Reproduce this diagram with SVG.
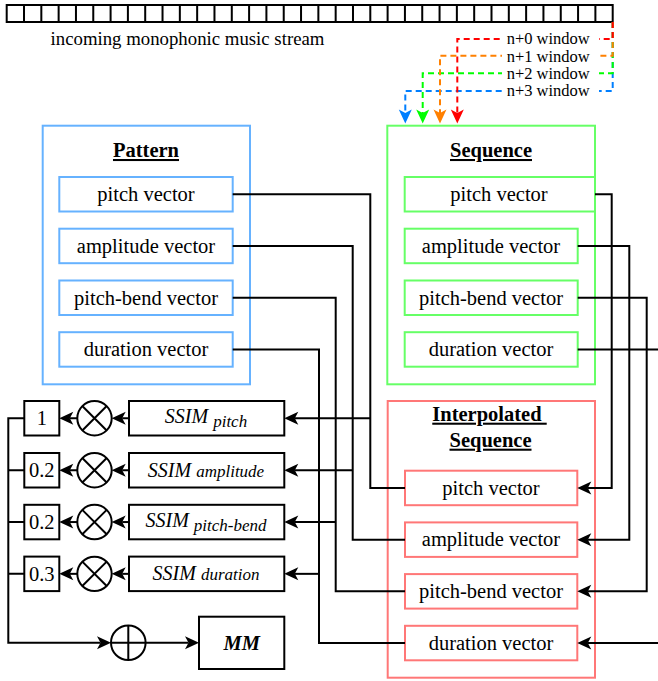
<svg xmlns="http://www.w3.org/2000/svg" width="658" height="681" viewBox="0 0 658 681" font-family="Liberation Serif, Tinos, Times New Roman, DejaVu Serif, serif">
  <defs>
    <style>
      text { font-family: "Liberation Serif", Tinos, "Times New Roman", "DejaVu Serif", serif; fill: #000; }
      .lbl { font-size: 20.5px; text-anchor: middle; }
      .ttl { font-size: 20.5px; font-weight: bold; text-anchor: middle; text-decoration: underline; }
      .ssim { font-style: italic; text-anchor: middle; }
      .win-lbl { font-size: 16.5px; }
      .pat { fill: #fff; stroke: #66B2FF; stroke-width: 2; }
      .seq { fill: #fff; stroke: #66FF66; stroke-width: 2; }
      .itp { fill: #fff; stroke: #FF7777; stroke-width: 2; }
      .blk { fill: #fff; stroke: #000; stroke-width: 2; }
      .wire { fill: none; stroke: #000; stroke-width: 2; }
      .arr { marker-end: url(#ah); }
      .win { fill: none; stroke-width: 2; stroke-dasharray: 6 4; }
      .cell { fill: none; stroke: #000; stroke-width: 2; }
    </style>
    <marker id="ah" markerUnits="userSpaceOnUse" markerWidth="16" markerHeight="14" refX="3.5" refY="6.5" orient="auto" overflow="visible">
      <path d="M0,0 L14,6.5 L0,13 L3.5,6.5 Z" fill="#000"/>
    </marker>
    <marker id="ah-red" markerUnits="userSpaceOnUse" markerWidth="16" markerHeight="14" refX="3.5" refY="6.5" orient="auto" overflow="visible">
      <path d="M0,0 L14,6.5 L0,13 L3.5,6.5 Z" fill="#FF0000"/>
    </marker>
    <marker id="ah-orange" markerUnits="userSpaceOnUse" markerWidth="16" markerHeight="14" refX="3.5" refY="6.5" orient="auto" overflow="visible">
      <path d="M0,0 L14,6.5 L0,13 L3.5,6.5 Z" fill="#FF8000"/>
    </marker>
    <marker id="ah-green" markerUnits="userSpaceOnUse" markerWidth="16" markerHeight="14" refX="3.5" refY="6.5" orient="auto" overflow="visible">
      <path d="M0,0 L14,6.5 L0,13 L3.5,6.5 Z" fill="#00FF00"/>
    </marker>
    <marker id="ah-blue" markerUnits="userSpaceOnUse" markerWidth="16" markerHeight="14" refX="3.5" refY="6.5" orient="auto" overflow="visible">
      <path d="M0,0 L14,6.5 L0,13 L3.5,6.5 Z" fill="#007FFF"/>
    </marker>
  </defs>

  <rect width="658" height="681" fill="#fff"/>

  <!-- incoming stream: 35 cells -->
  <g id="stream">
    <rect class="cell" x="6.7" y="5" width="606" height="17"/>
    <path class="cell" d="M24.01,5V22M41.33,5V22M58.64,5V22M75.96,5V22M93.27,5V22M110.59,5V22M127.9,5V22M145.21,5V22M162.53,5V22M179.84,5V22M197.16,5V22M214.47,5V22M231.79,5V22M249.1,5V22M266.41,5V22M283.73,5V22M301.04,5V22M318.36,5V22M335.67,5V22M352.99,5V22M370.3,5V22M387.61,5V22M404.93,5V22M422.24,5V22M439.56,5V22M456.87,5V22M474.19,5V22M491.5,5V22M508.81,5V22M526.13,5V22M543.44,5V22M560.76,5V22M578.07,5V22M595.39,5V22"/>
    <text x="187.5" y="44.5" font-size="18.8" text-anchor="middle">incoming monophonic music stream</text>
  </g>

  <!-- sliding windows -->
  <g id="windows">
    <path class="win" stroke="#007FFF" d="M612.7,22 V91 H405.3 V113" marker-end="url(#ah-blue)"/>
    <path class="win" stroke="#00FF00" d="M612.7,22 V73.3 H422.7 V113" marker-end="url(#ah-green)"/>
    <path class="win" stroke="#FF8000" d="M612.7,22 V55.7 H440 V113" marker-end="url(#ah-orange)"/>
    <path class="win" stroke="#FF0000" d="M612.7,22 V39 H457.3 V113" marker-end="url(#ah-red)"/>
    <rect x="502" y="32" width="97" height="14" fill="#fff"/>
    <rect x="502" y="48.7" width="97" height="14" fill="#fff"/>
    <rect x="502" y="66.3" width="97" height="14" fill="#fff"/>
    <rect x="502" y="84" width="97" height="14" fill="#fff"/>
    <text class="win-lbl" x="506.7" y="44.3">n+0 window</text>
    <text class="win-lbl" x="506.7" y="61.5">n+1 window</text>
    <text class="win-lbl" x="506.7" y="79">n+2 window</text>
    <text class="win-lbl" x="506.7" y="96.3">n+3 window</text>
  </g>

  <!-- Pattern -->
  <g id="pattern">
    <rect class="pat" x="42.7" y="125.7" width="207.3" height="258.6"/>
    <text class="ttl" x="146" y="157">Pattern</text>
  </g>
  <g id="pattern-pitch">
    <rect class="pat" x="59.3" y="177" width="173.4" height="34.5"/>
    <text class="lbl" x="146" y="201">pitch vector</text>
  </g>
  <g id="pattern-amplitude">
    <rect class="pat" x="59.3" y="228.7" width="173.4" height="34.5"/>
    <text class="lbl" x="146" y="252.7">amplitude vector</text>
  </g>
  <g id="pattern-pitchbend">
    <rect class="pat" x="59.3" y="280.5" width="173.4" height="34.5"/>
    <text class="lbl" x="146" y="304.5">pitch-bend vector</text>
  </g>
  <g id="pattern-duration">
    <rect class="pat" x="59.3" y="332.2" width="173.4" height="34.5"/>
    <text class="lbl" x="146" y="356.2">duration vector</text>
  </g>

  <!-- Sequence -->
  <g id="sequence">
    <rect class="seq" x="387.3" y="125.7" width="207.7" height="258.6"/>
    <text class="ttl" x="491" y="157">Sequence</text>
  </g>
  <g id="sequence-pitch">
    <rect class="seq" x="404.7" y="177" width="190.3" height="34.5"/>
    <text class="lbl" x="499" y="201">pitch vector</text>
  </g>
  <g id="sequence-amplitude">
    <rect class="seq" x="404.7" y="228.7" width="173" height="34.5"/>
    <text class="lbl" x="491" y="252.7">amplitude vector</text>
  </g>
  <g id="sequence-pitchbend">
    <rect class="seq" x="404.7" y="280.5" width="173" height="34.5"/>
    <text class="lbl" x="491" y="304.5">pitch-bend vector</text>
  </g>
  <g id="sequence-duration">
    <rect class="seq" x="404.7" y="332.2" width="173" height="34.5"/>
    <text class="lbl" x="491" y="356.2">duration vector</text>
  </g>

  <!-- Interpolated Sequence -->
  <g id="interpolated">
    <rect class="itp" x="387.7" y="401" width="207.3" height="276.7"/>
    <text class="ttl" x="489.5" y="420.7" xml:space="preserve">Interpolated </text>
    <text class="ttl" x="490.5" y="446.7">Sequence</text>
  </g>
  <g id="interpolated-pitch">
    <rect class="itp" x="405" y="470.7" width="172.3" height="34.5"/>
    <text class="lbl" x="491" y="494.7">pitch vector</text>
  </g>
  <g id="interpolated-amplitude">
    <rect class="itp" x="405" y="522.4" width="172.3" height="34.5"/>
    <text class="lbl" x="491" y="546.4">amplitude vector</text>
  </g>
  <g id="interpolated-pitchbend">
    <rect class="itp" x="405" y="574.1" width="172.3" height="34.5"/>
    <text class="lbl" x="491" y="598.1">pitch-bend vector</text>
  </g>
  <g id="interpolated-duration">
    <rect class="itp" x="405" y="625.8" width="172.3" height="34.5"/>
    <text class="lbl" x="491" y="649.8">duration vector</text>
  </g>

  <!-- SSIM blocks -->
  <g id="ssim-pitch">
    <rect class="blk" x="129" y="401" width="155.3" height="34.5"/>
    <text class="ssim" x="206" y="423"><tspan font-size="20">SSIM </tspan><tspan font-size="17" dy="3.5">pitch</tspan></text>
  </g>
  <g id="ssim-amplitude">
    <rect class="blk" x="129" y="453" width="155.3" height="34.5"/>
    <text class="ssim" x="206" y="476.7"><tspan font-size="20">SSIM </tspan><tspan font-size="17">amplitude</tspan></text>
  </g>
  <g id="ssim-pitchbend">
    <rect class="blk" x="129" y="504.8" width="155.3" height="34.5"/>
    <text class="ssim" x="206" y="526.8"><tspan font-size="20">SSIM </tspan><tspan font-size="17" dy="4.5">pitch-bend</tspan></text>
  </g>
  <g id="ssim-duration">
    <rect class="blk" x="129" y="556.6" width="155.3" height="34.5"/>
    <text class="ssim" x="206" y="580.2"><tspan font-size="20">SSIM </tspan><tspan font-size="17">duration</tspan></text>
  </g>

  <!-- multipliers -->
  <g id="mul-pitch">
    <circle class="blk" cx="94.5" cy="418.25" r="17.2"/>
    <path class="wire" d="M82.3,406.05 L106.7,430.45 M106.7,406.05 L82.3,430.45"/>
  </g>
  <g id="mul-amplitude">
    <circle class="blk" cx="94.5" cy="470.25" r="17.2"/>
    <path class="wire" d="M82.3,458.05 L106.7,482.45 M106.7,458.05 L82.3,482.45"/>
  </g>
  <g id="mul-pitchbend">
    <circle class="blk" cx="94.5" cy="522.05" r="17.2"/>
    <path class="wire" d="M82.3,509.85 L106.7,534.25 M106.7,509.85 L82.3,534.25"/>
  </g>
  <g id="mul-duration">
    <circle class="blk" cx="94.5" cy="573.85" r="17.2"/>
    <path class="wire" d="M82.3,561.65 L106.7,586.05 M106.7,561.65 L82.3,586.05"/>
  </g>

  <!-- weights -->
  <g id="w-pitch">
    <rect class="blk" x="24.3" y="401" width="35" height="34.5"/>
    <text class="lbl" x="41.8" y="425">1</text>
  </g>
  <g id="w-amplitude">
    <rect class="blk" x="24.3" y="453" width="35" height="34.5"/>
    <text class="lbl" x="41.8" y="477">0.2</text>
  </g>
  <g id="w-pitchbend">
    <rect class="blk" x="24.3" y="504.8" width="35" height="34.5"/>
    <text class="lbl" x="41.8" y="528.8">0.2</text>
  </g>
  <g id="w-duration">
    <rect class="blk" x="24.3" y="556.6" width="35" height="34.5"/>
    <text class="lbl" x="41.8" y="580.6">0.3</text>
  </g>

  <!-- summation and result -->
  <g id="sum">
    <circle class="blk" cx="128.3" cy="642.7" r="17.3"/>
    <path class="wire" d="M128.3,625.4 V660 M111,642.7 H145.6"/>
  </g>
  <g id="mm">
    <rect class="blk" x="199" y="616.7" width="85.3" height="52.3"/>
    <text x="241.7" y="649.7" font-size="20.5" font-weight="bold" font-style="italic" text-anchor="middle">MM</text>
  </g>

  <!-- connectors -->
  <g id="connectors">
    <!-- pattern vectors to interpolated boxes, tapped for SSIM -->
    <path class="wire" d="M232.7,194.25 H370.3 V487.95 H405"/>
    <path class="wire" d="M232.7,245.95 H352.7 V539.65 H405"/>
    <path class="wire" d="M232.7,297.75 H335.7 V591.35 H405"/>
    <path class="wire" d="M232.7,349.45 H319 V643.05 H405"/>
    <path class="wire arr" d="M370.3,418.25 H294.8"/>
    <path class="wire arr" d="M352.7,470.25 H294.8"/>
    <path class="wire arr" d="M335.7,522.05 H294.8"/>
    <path class="wire arr" d="M319,573.85 H294.8"/>

    <!-- sequence vectors into interpolated boxes -->
    <path class="wire arr" d="M595,194.25 H611.7 V487.95 H587.8"/>
    <path class="wire arr" d="M577.7,245.95 H629.3 V539.65 H587.8"/>
    <path class="wire arr" d="M577.7,297.75 H646.7 V591.35 H587.8"/>
    <path class="wire" d="M577.7,349.45 H660"/>
    <path class="wire arr" d="M660,643.05 H587.8"/>

    <!-- SSIM to multipliers to weights -->
    <path class="wire arr" d="M129,418.25 H122.2"/>
    <path class="wire arr" d="M129,470.25 H122.2"/>
    <path class="wire arr" d="M129,522.05 H122.2"/>
    <path class="wire arr" d="M129,573.85 H122.2"/>
    <path class="wire arr" d="M77.3,418.25 H69.8"/>
    <path class="wire arr" d="M77.3,470.25 H69.8"/>
    <path class="wire arr" d="M77.3,522.05 H69.8"/>
    <path class="wire arr" d="M77.3,573.85 H69.8"/>

    <!-- weights bus to sum to MM -->
    <path class="wire arr" d="M24.3,418.25 H8.3 V642.7 H100.5"/>
    <path class="wire" d="M8.3,470.25 H24.3 M8.3,522.05 H24.3 M8.3,573.85 H24.3"/>
    <path class="wire arr" d="M145.6,642.7 H188.5"/>
  </g>
</svg>
